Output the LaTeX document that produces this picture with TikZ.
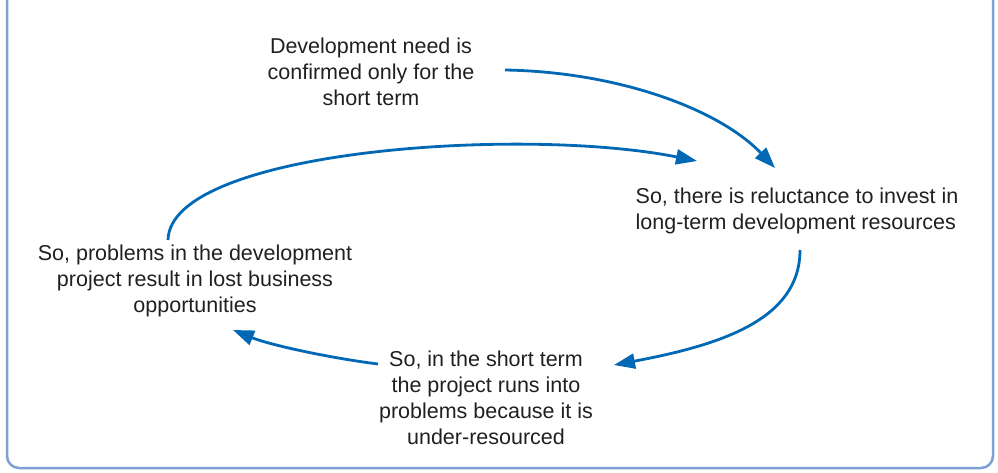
\documentclass[tikz,border=0pt]{standalone}
\usepackage{fontspec}
\setmainfont{Liberation Sans}
\usetikzlibrary{arrows.meta}
\definecolor{loopblue}{RGB}{0,104,180}
\definecolor{framblue}{RGB}{125,160,215}
\definecolor{txtgray}{RGB}{35,31,32}
\begin{document}
\begin{tikzpicture}[x=1pt, y=-1pt,
    stage/.style={inner sep=0pt, text=txtgray, font=\fontsize{21.5}{26}\selectfont},
    flow/.style={line width=2.8pt, draw=loopblue, -{Triangle[length=21pt, width=15pt, fill=loopblue]}}]
    \useasboundingbox (0,0) rectangle (998,473);
    % Ramecek
    \draw[framblue, line width=2.5pt, rounded corners=12pt] (7,-30) -- (7,468) -- (993,468) -- (993,-30);

    % Texty
    \node[stage, align=center] (need) at (371,72) {Development need is\\confirmed only for the\\short term};
    \node[stage, align=left] (reluct) at (797,211) {So, there is reluctance to invest in\\long-term development resources};
    \node[stage, align=center] (short) at (486,398) {So, in the short term\\the project runs into\\problems because it is\\under-resourced};
    \node[stage, align=center] (lost) at (195,281) {So, problems in the development\\project result in lost business\\opportunities};

    % Smycka
    \draw[flow] ([shift={(134,-2)}]need.center) .. controls +(115,2) and +(-55,-58) .. ([shift={(-22,-43)}]reluct.center);
    \draw[flow] ([shift={(3,39)}]reluct.center) .. controls +(0,70) and +(106,-20) .. ([shift={(128,-33)}]short.center);
    \draw[flow] ([shift={(-108,-34)}]short.center) .. controls +(-48,-6) and +(37,15) .. ([shift={(38,49)}]lost.center);
    \draw[flow] ([shift={(-27,-41)}]lost.center) .. controls +(2,-90) and +(-175,-35) .. ([shift={(-100,-50)}]reluct.center);
\end{tikzpicture}
\end{document}
